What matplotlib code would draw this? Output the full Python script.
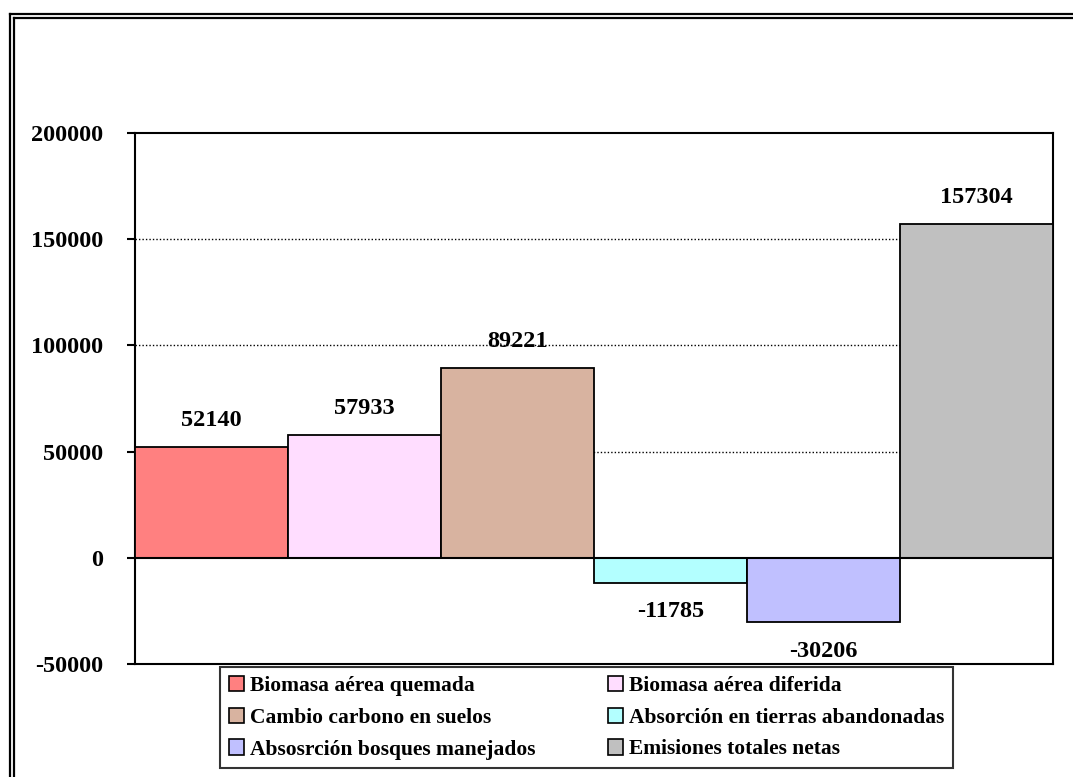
"""
Emisiones netas por componente (bar chart, Excel style)
"""

import matplotlib
matplotlib.use("Agg")
import matplotlib.pyplot as plt
from matplotlib.lines import Line2D
from matplotlib.patches import Patch

######################################################################
############################### Data #################################

categories = ["Biomasa aérea quemada", "Biomasa aérea diferida",
              "Cambio carbono en suelos", "Absorción en tierras abandonadas",
              "Absosrción bosques manejados", "Emisiones totales netas"]
values = [52140, 57933, 89221, -11785, -30206, 157304]
colors = ["#FF8080", "#FFDDFF", "#D8B3A0", "#B3FFFF", "#C0C0FF", "#C0C0C0"]
y_ticks = [-50000, 0, 50000, 100000, 150000, 200000]

W, H = 1073, 777
plt.rcParams['font.family'] = ['Liberation Serif', 'DejaVu Serif']

fig = plt.figure(figsize=(W / 100, H / 100), dpi=100)
ax = fig.add_axes([135 / W, 1 - 664 / H, 918 / W, 531 / H])

x = list(range(len(values)))
ax.bar(x, values, width=1.0, color=colors, edgecolor="black", linewidth=1.3, zorder=3)

# dotted grid and zero line
for yv in y_ticks[2:-1]:
    ax.axhline(yv, color="black", linestyle=(0, (1, 1.5)), linewidth=1.0, zorder=1)
ax.axhline(0, color="black", linewidth=1.5, zorder=4)

ax.set_xlim(-0.5, len(values) - 0.5)
ax.set_ylim(y_ticks[0], y_ticks[-1])
ax.set_yticks(y_ticks)
ax.set_yticklabels([str(v) for v in y_ticks], fontsize=17.5, fontweight="bold")
ax.tick_params(axis="y", direction="out", length=6, width=1.5, pad=17)
ax.set_xticks([])
for sp in ax.spines.values():
    sp.set_linewidth(1.5)

# value labels
for xi, v in zip(x, values):
    off = 19 if v >= 0 else -21
    ax.annotate(str(v), (xi, v), xytext=(0, off), textcoords="offset points",
                ha="center", va="center", fontsize=17.5, fontweight="bold", zorder=5)

# legend (row-wise order like Excel -> reorder for column filling)
handles = [Patch(facecolor=c, edgecolor="black", linewidth=1.2) for c in colors]
order = [0, 2, 4, 1, 3, 5]
leg = fig.legend([handles[i] for i in order], [categories[i] for i in order],
                 ncol=2, loc="upper left",
                 bbox_to_anchor=(220 / W, 1 - 667 / H),
                 prop={"family": "Liberation Serif", "weight": "bold", "size": 15.5},
                 frameon=True, fancybox=False, edgecolor="black",
                 handlelength=0.7, handleheight=0.7, handletextpad=0.3,
                 columnspacing=3.35, borderpad=0.4, labelspacing=0.55,
                 borderaxespad=0)
leg.get_frame().set_linewidth(1.5)

# double outer frame (left and top only visible)
for px in (10, 14):
    fig.add_artist(Line2D([px / W, px / W], [0, 1 - (px + 4) / H], transform=fig.transFigure,
                          color="black", linewidth=1.6))
for py in (14, 18):
    fig.add_artist(Line2D([(py - 4) / W, 1], [1 - py / H, 1 - py / H], transform=fig.transFigure,
                          color="black", linewidth=1.6))

fig.savefig("out.png", dpi=100)
